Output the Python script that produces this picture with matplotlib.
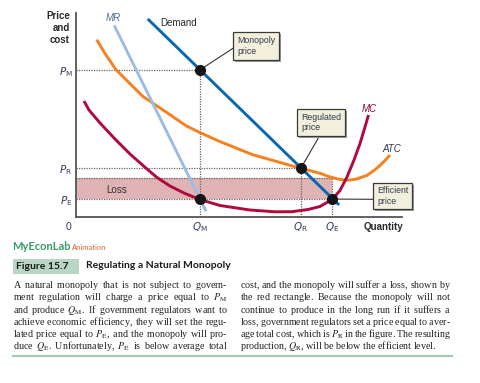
#!/usr/bin/env python
'''Regulating a natural monopoly - textbook figure with caption.'''

import matplotlib
matplotlib.use('Agg')
import matplotlib.pyplot as plt
from matplotlib.patches import Rectangle

# figure size in pixels
W, H = 481, 383

# demand and marginal revenue are straight lines (end points)
demand_q = [22.0, 80.7]
demand_p = [97.1, 5.9]
mr_q = [11.7, 39.9]
mr_p = [94.0, 2.8]

# average total cost
atc_q = [6.35, 8.9, 12.27, 20.46, 27.61, 33.74, 37.82, 43.96, 54.2, 67.48, 74.85, 77.91,
         80.98, 83.44, 85.89, 89.17, 91.41, 93.25, 94.79, 96.32]
atc_p = [86.91, 80.15, 72.21, 59.17, 51.47, 44.75, 41.52, 37.11, 30.54, 24.51, 21.42, 19.6,
         18.4, 18.04, 18.53, 20.34, 22.79, 25.25, 27.7, 30.39]

# marginal cost
mc_q = [2.45, 3.99, 7.36, 11.96, 16.56, 21.78, 24.85, 28.83, 33.44, 38.04, 44.17, 53.37,
        61.04, 66.26, 71.17, 74.85, 78.53, 80.98, 83.13, 85.28, 87.12, 88.65, 89.72]
mc_p = [56.86, 52.45, 46.08, 38.24, 30.88, 23.53, 19.36, 15.2, 11.52, 8.58, 5.64, 3.43,
        2.55, 2.6, 3.68, 5.15, 8.58, 12.99, 19.61, 27.94, 36.03, 44.12, 50.0]

# key quantities and prices
q_monopoly, q_regulated, q_efficient = 38.0, 69.0, 78.5
p_monopoly, p_regulated, p_efficient = 72.1, 24.0, 8.8
atc_at_efficient = 19.1

# colours
DEMAND_COLOR = '#0b67b2'
MR_COLOR = '#9dbce0'
ATC_COLOR = '#f5821f'
MC_COLOR = '#b00a3c'
LOSS_COLOR = '#e0b3b5'
BOX_FACE = '#f2f0dd'
LABEL_COLOR = '#2f3a58'
DOT_LINE = dict(color='#666666', lw=0.9, ls=(0, (1, 1)), zorder=2)


def fx(px):
    return px / W


def fy(py):
    return 1 - py / H


fig = plt.figure(figsize=(W / 100, H / 100), dpi=100)
ax = fig.add_axes([fx(76), fy(217), (402 - 76) / W, (217 - 13) / H])
ax.set_xlim(0, 100)
ax.set_ylim(0, 100)
for s in ['top', 'right']:
    ax.spines[s].set_visible(False)
for s in ['left', 'bottom']:
    ax.spines[s].set_color('#555555')
    ax.spines[s].set_linewidth(1.3)

# tick labels at the key values
ax.set_xticks([q_monopoly, q_regulated, q_efficient])
ax.set_xticklabels([r'$Q_\mathrm{M}$', r'$Q_\mathrm{R}$', r'$Q_\mathrm{E}$'])
ax.set_yticks([p_efficient, p_regulated, p_monopoly])
ax.set_yticklabels([r'$P_\mathrm{E}$', r'$P_\mathrm{R}$', r'$P_\mathrm{M}$'])
ax.tick_params(length=0, pad=2.5, labelsize=7.5, labelcolor=LABEL_COLOR)

# loss rectangle
ax.add_patch(Rectangle((0, p_efficient), q_efficient, atc_at_efficient - p_efficient,
                       fc=LOSS_COLOR, ec='none', zorder=1))
ax.text(12.6, 13.4, 'Loss', fontsize=7, color='#333333', family='Liberation Sans',
        ha='center', va='center', zorder=3)

# dotted guide lines
ax.plot([0, q_monopoly], [p_monopoly, p_monopoly], **DOT_LINE)
ax.plot([q_monopoly, q_monopoly], [0, p_monopoly], **DOT_LINE)
ax.plot([0, q_regulated], [p_regulated, p_regulated], **DOT_LINE)
ax.plot([q_regulated, q_regulated], [0, p_regulated], **DOT_LINE)
ax.plot([0, q_efficient], [atc_at_efficient, atc_at_efficient], **DOT_LINE)
ax.plot([0, q_efficient], [p_efficient, p_efficient], **DOT_LINE)
ax.plot([q_efficient, q_efficient], [0, atc_at_efficient], **DOT_LINE)

# curves
ax.plot(atc_q, atc_p, color=ATC_COLOR, lw=2.1, solid_capstyle='butt', zorder=3)
ax.plot(mr_q, mr_p, color=MR_COLOR, lw=2.1, solid_capstyle='butt', zorder=3)
ax.plot(mc_q, mc_p, color=MC_COLOR, lw=2.1, solid_capstyle='butt', zorder=4)
ax.plot(demand_q, demand_p, color=DEMAND_COLOR, lw=2.1, solid_capstyle='butt', zorder=4)

# equilibrium dots
ax.plot([q_monopoly, q_regulated, q_monopoly, q_efficient],
        [p_monopoly, p_regulated, p_efficient, p_efficient],
        'o', color='#151515', ms=7, zorder=6)

# curve labels
fig.text(fx(113), fy(18), 'MR', style='italic', fontsize=7, color='#4d6a92',
         family='Liberation Sans', ha='center', va='center')
fig.text(fx(160), fy(23), 'Demand', fontsize=7, color='#2a2a2a',
         family='Liberation Sans', ha='left', va='center')
fig.text(fx(369), fy(109), 'MC', style='italic', fontsize=7, color='#8a1030',
         family='Liberation Sans', ha='center', va='center')
fig.text(fx(392), fy(149), 'ATC', style='italic', fontsize=7, color=LABEL_COLOR,
         family='Liberation Sans', ha='center', va='center')
fig.text(fx(70), fy(28), 'Price\nand\ncost', fontsize=7, weight='bold', color='#2a2a2a',
         family='Liberation Sans', ha='right', va='center', linespacing=1.25)
fig.text(fx(383.5), fy(227), 'Quantity', fontsize=7, weight='bold', color='#2a2a2a',
         family='Liberation Sans', ha='center', va='center')
fig.text(fx(68), fy(226.5), '0', fontsize=7.5, color=LABEL_COLOR,
         family='Liberation Sans', ha='center', va='center')


def callout(x0, y0, x1, y1, label, anchor_xy, end_px):
    '''Cream box with shadow and a leader line to a point on the chart'''
    shadow = Rectangle((fx(x0 + 2), fy(y1 + 2)), (x1 - x0) / W, (y1 - y0) / H,
                       transform=fig.transFigure, fc='#9a9a9a', ec='none', zorder=7)
    box = Rectangle((fx(x0), fy(y1)), (x1 - x0) / W, (y1 - y0) / H,
                    transform=fig.transFigure, fc=BOX_FACE, ec='#3a3a3a', lw=0.9, zorder=8)
    fig.patches.extend([shadow, box])
    fig.text(fx(x0 + 4), fy((y0 + y1) / 2), label, fontsize=6.3, color='#333a4f',
             family='Liberation Sans', ha='left', va='center', linespacing=1.15, zorder=9)
    ax.annotate('', xy=anchor_xy, xycoords='data',
                xytext=(fx(end_px[0]), fy(end_px[1])), textcoords='figure fraction',
                arrowprops=dict(arrowstyle='-', color='#333333', lw=0.8,
                                shrinkA=0, shrinkB=0), zorder=5)


callout(233, 32, 279, 60, 'Monopoly\nprice', (q_monopoly, p_monopoly), (233, 48.3))
callout(297, 109, 345, 136, 'Regulated\nprice', (q_regulated, p_regulated), (319.5, 136))
callout(373, 183, 412, 209, 'Efficient\nprice', (q_efficient, p_efficient), (373, 199.3))

# caption header
fig.text(fx(12.5), fy(246.5), 'MyEconLab', fontsize=8, weight='bold', color='#3a9a6a',
         family='Lato', ha='left', va='center')
fig.text(fx(72), fy(247.5), 'Animation', fontsize=5.5, color='#e0603a',
         family='Lato', ha='left', va='center')
fig.patches.append(Rectangle((fx(12.5), fy(273.5)), (79 - 12.5) / W, 14.5 / H,
                             transform=fig.transFigure, fc='#b9d5c3', ec='none'))
fig.text(fx(16), fy(266.5), 'Figure 15.7', fontsize=7.5, weight='bold', color='#1a1a1a',
         family='Lato', ha='left', va='center')
fig.text(fx(86), fy(266), 'Regulating a Natural Monopoly', fontsize=7.5, weight='bold',
         color='#1a1a1a', family='Lato', ha='left', va='center')

# caption paragraph in two justified columns
left_lines = [
    'A natural monopoly that is not subject to govern-',
    r'ment regulation will charge a price equal to $P_\mathrm{M}$',
    r'and produce $Q_\mathrm{M}$. If government regulators want to',
    'achieve economic efficiency, they will set the regu-',
    r'lated price equal to $P_\mathrm{E}$, and the monopoly will pro-',
    r'duce $Q_\mathrm{E}$. Unfortunately, $P_\mathrm{E}$ is below average total',
]
right_lines = [
    'cost, and the monopoly will suffer a loss, shown by',
    'the red rectangle. Because the monopoly will not',
    'continue to produce in the long run if it suffers a',
    'loss, government regulators set a price equal to aver-',
    r'age total cost, which is $P_\mathrm{R}$ in the figure. The resulting',
    r'production, $Q_\mathrm{R}$, will be below the efficient level.',
]
LEFT_COL = (12.7, 227.5)
RIGHT_COL = (240.5, 451.5)
MIN_GAP = 1.9

renderer = fig.canvas.get_renderer()
PARA = dict(color='#222222', family='Liberation Serif', math_fontfamily='stix',
            ha='left', va='baseline')


def spaced(words, gap):
    # words joined by a mathtext space of the given width (in em)
    return (r'$\hspace{%.4f}$' % gap).join(words).replace('$$', '')


def tight_width(text, size):
    probe = fig.text(0, 0, text, fontsize=size, **PARA)
    w = probe.get_window_extent(renderer).width
    probe.remove()
    return w


def fits(size):
    # every justified line needs at least MIN_GAP px between its words
    for lines, (x0, x1) in [(left_lines, LEFT_COL), (right_lines, RIGHT_COL)]:
        for line in lines:
            words = line.split(' ')
            if tight_width(spaced(words, 0), size) + MIN_GAP * (len(words) - 1) > x1 - x0:
                return False
    return True


para_size = 7.6
while not fits(para_size):
    para_size -= 0.1


def justified_column(lines, x0, x1, y_first, step, last_ragged):
    # width of one mathtext em in pixels
    em = (tight_width(spaced(['x', 'x'], 10), para_size)
          - tight_width(spaced(['x', 'x'], 0), para_size)) / 10

    for i, line in enumerate(lines):
        y = fy(y_first + i * step)
        if last_ragged and i == len(lines) - 1:
            fig.text(fx(x0), y, line, fontsize=para_size, **PARA)
            continue
        words = line.split(' ')
        gap = (x1 - x0 - tight_width(spaced(words, 0), para_size)) / (len(words) - 1) / em
        fig.text(fx(x0), y, spaced(words, gap), fontsize=para_size, **PARA)


justified_column(left_lines, LEFT_COL[0], LEFT_COL[1], 288.3, 12.2, False)
justified_column(right_lines, RIGHT_COL[0], RIGHT_COL[1], 288.3, 12.2, True)

# green rule below the caption
fig.add_artist(plt.Line2D([fx(12.5), fx(452)], [fy(356), fy(356)], color='#a9c9b3', lw=1.6))

fig.savefig('out.png', dpi=100)
